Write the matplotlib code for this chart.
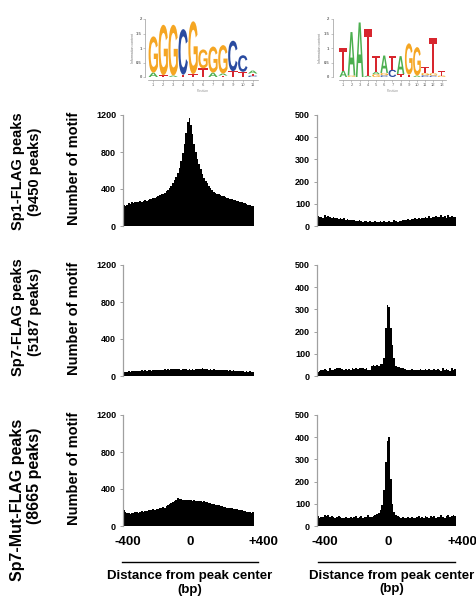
import numpy as np
import matplotlib
matplotlib.use('Agg')
import matplotlib.pyplot as plt
import matplotlib.transforms as mtransforms
from matplotlib.textpath import TextPath
from matplotlib.patches import PathPatch
from matplotlib.font_manager import FontProperties
from matplotlib.lines import Line2D

plt.rcParams['font.family'] = ['Liberation Sans', 'DejaVu Sans']
plt.rcParams['font.weight'] = 'bold'

W, H = 476, 598

# histogram bins (10 bp) from -400 to +400
bin_centers = np.arange(-395, 400, 10)

# Sp1-FLAG peaks, GC-box motif
sp1_gc = [228, 218, 232, 245, 240, 255, 248, 262, 255, 258,
          268, 262, 272, 280, 274, 286, 292, 288, 300, 305,
          312, 322, 334, 345, 350, 362, 378, 392, 410, 432,
          465, 495, 532, 572, 630, 702, 790, 890, 1010, 1125,
          1165, 1090, 990, 890, 800, 728, 668, 612, 560, 520,
          488, 462, 432, 408, 388, 372, 362, 350, 342, 335,
          326, 320, 312, 306, 300, 296, 290, 284, 278, 272,
          268, 262, 256, 250, 244, 238, 232, 226, 218, 212]
# Sp1-FLAG peaks, AT-rich motif
sp1_at = [45, 40, 42, 38, 50, 41, 44, 42, 37, 40,
          35, 38, 33, 36, 30, 34, 28, 31, 26, 29,
          25, 27, 24, 22, 26, 22, 20, 23, 21, 19,
          24, 20, 18, 22, 20, 18, 21, 19, 24, 20,
          18, 22, 19, 20, 25, 22, 20, 24, 22, 26,
          28, 25, 30, 28, 32, 30, 34, 32, 36, 33,
          38, 35, 40, 37, 44, 38, 42, 40, 45, 39,
          42, 48, 40, 44, 38, 50, 42, 45, 40, 42]
# Sp7-FLAG peaks, GC-box motif
sp7_gc = [42, 48, 45, 52, 47, 55, 50, 53, 58, 52,
          56, 60, 55, 62, 58, 60, 64, 59, 66, 62,
          65, 68, 63, 70, 66, 72, 68, 74, 70, 75,
          72, 76, 71, 78, 74, 70, 76, 72, 75, 70,
          73, 68, 74, 70, 72, 76, 80, 74, 85, 78,
          72, 76, 70, 74, 68, 72, 66, 70, 64, 68,
          62, 66, 60, 64, 58, 62, 56, 60, 55, 58,
          52, 56, 50, 54, 48, 52, 46, 50, 45, 48]
# Sp7-FLAG peaks, AT-rich motif
sp7_at = [20, 24, 28, 25, 30, 26, 22, 38, 26, 25,
          30, 36, 34, 37, 32, 29, 30, 27, 33, 28,
          35, 30, 36, 32, 38, 34, 36, 30, 37, 28,
          26, 45, 48, 44, 50, 46, 52, 55, 80, 215,
          322, 312, 215, 140, 80, 45, 42, 40, 38, 35,
          30, 27, 28, 25, 30, 27, 26, 28, 25, 30,
          27, 25, 32, 28, 30, 25, 26, 33, 28, 30,
          26, 24, 35, 28, 30, 26, 24, 36, 28, 30]
# Sp7-Mut-FLAG peaks, GC-box motif
mut_gc = [168, 150, 138, 142, 135, 145, 140, 148, 152, 145,
          155, 160, 152, 165, 162, 170, 175, 168, 180, 178,
          185, 182, 195, 198, 205, 200, 212, 222, 235, 245,
          262, 275, 282, 300, 288, 292, 280, 285, 278, 282,
          276, 280, 272, 278, 270, 275, 268, 272, 262, 265,
          255, 258, 248, 245, 238, 240, 232, 225, 228, 218,
          212, 205, 208, 198, 195, 190, 192, 185, 180, 182,
          175, 170, 168, 160, 162, 155, 150, 152, 145, 148]
# Sp7-Mut-FLAG peaks, AT-rich motif
mut_at = [45, 38, 42, 40, 50, 44, 48, 42, 45, 40,
          38, 42, 45, 40, 36, 38, 42, 35, 38, 40,
          36, 42, 45, 38, 40, 44, 38, 42, 40, 48,
          40, 42, 45, 50, 55, 60, 70, 95, 160, 290,
          385, 400, 210, 100, 62, 50, 45, 40, 38, 42,
          38, 35, 40, 36, 42, 38, 34, 40, 44, 38,
          42, 36, 45, 40, 38, 44, 40, 46, 38, 42,
          40, 48, 42, 38, 45, 50, 40, 44, 48, 45]

row_names = ['Sp1-FLAG peaks', 'Sp7-FLAG peaks', 'Sp7-Mut-FLAG peaks']
row_counts = ['(9450 peaks)', '(5187 peaks)', '(8665 peaks)']
left_data = [sp1_gc, sp7_gc, mut_gc]
right_data = [sp1_at, sp7_at, mut_at]
left_yticks = [0, 400, 800, 1200]
right_yticks = [0, 100, 200, 300, 400, 500]
xtick_labels = ['-400', '0', '+400']

# sequence logos, letters stacked bottom to top
gc_logo_letters = ['AG', 'TG', 'AG', 'TC', 'TG', 'TG', 'AG', 'TAG', 'TC', 'TC', 'CTA']
gc_logo_heights = [[0.15, 1.25], [0.06, 1.74], [0.05, 1.75], [0.08, 1.57],
                   [0.1, 1.82], [0.3, 0.65], [0.15, 0.9], [0.05, 0.07, 0.98],
                   [0.2, 1.05], [0.18, 0.57], [0.05, 0.07, 0.1]]
at_logo_letters = ['AT', 'GA', 'A', 'AT', 'GAT', 'CGA', 'CT', 'TA', 'TG', 'AG',
                   'CGT', 'CGT', 'GT']
at_logo_heights = [[0.22, 0.78], [0.05, 1.5], [1.88], [0.05, 1.6],
                   [0.1, 0.08, 0.55], [0.06, 0.08, 0.6], [0.25, 0.48], [0.1, 0.62],
                   [0.08, 1.08], [0.05, 0.98], [0.06, 0.08, 0.22],
                   [0.05, 0.08, 1.22], [0.05, 0.15]]

letter_colors = {'A': '#4caf50', 'C': '#2a4ba0', 'G': '#f5a623', 'T': '#d7262e'}
logo_font = FontProperties(family='Liberation Sans', weight='bold')


def fx(x):
    return x / W


def fy(y):
    return 1 - y / H


def add_ax(x0, y0, x1, y1):
    # pixel box (top-left origin) -> figure axes
    return fig.add_axes([fx(x0), fy(y1), (x1 - x0) / W, (y1 - y0) / H])


def draw_logo(ax, stacks, heights):
    for pos, (letters, hs) in enumerate(zip(stacks, heights), start=1):
        y = 0
        for ch, h in zip(letters, hs):
            tp = TextPath((0, 0), ch, size=1, prop=logo_font)
            bb = tp.get_extents()
            tr = (mtransforms.Affine2D()
                  .translate(-bb.x0, -bb.y0)
                  .scale(0.94 / bb.width, h / bb.height)
                  .translate(pos - 0.47, y))
            ax.add_patch(PathPatch(tr.transform_path(tp),
                                   fc=letter_colors[ch], ec='none'))
            y += h
    n = len(stacks)
    ax.set_xlim(0.5, n + 0.5)
    ax.set_ylim(0, 2)
    for s in ['top', 'right']:
        ax.spines[s].set_visible(False)
    for s in ['left', 'bottom']:
        ax.spines[s].set_color('#9a9a9a')
        ax.spines[s].set_linewidth(0.5)
    ax.spines['bottom'].set_position(('outward', 2))
    ax.set_xticks(range(1, n + 1))
    ax.set_xticklabels([str(i) for i in range(1, n + 1)])
    ax.set_yticks([0, 0.5, 1, 1.5, 2])
    ax.set_yticklabels(['0', '0.5', '1', '1.5', '2'])
    ax.tick_params(length=1.5, width=0.4, color='#9a9a9a', labelsize=3,
                   labelcolor='#666666', pad=1)
    for lab in ax.get_xticklabels() + ax.get_yticklabels():
        lab.set_fontweight('normal')
    ax.set_xlabel('Position', fontsize=2.5, color='#999999',
                  fontweight='normal', labelpad=1)
    ax.set_ylabel('Information content', fontsize=2.5, color='#777777',
                  fontweight='normal', labelpad=1)
    ax.patch.set_alpha(0)


fig = plt.figure(figsize=(W / 100, H / 100), dpi=100)

# logos
ax_l1 = add_ax(148.3, 19, 257.7, 77)
draw_logo(ax_l1, gc_logo_letters, gc_logo_heights)
ax_l1.spines['left'].set_position(('outward', 2.2))
ax_l2 = add_ax(339.2, 19, 445.6, 77)
draw_logo(ax_l2, at_logo_letters, at_logo_heights)
ax_l2.spines['left'].set_position(('outward', 4.7))

row_tops = [115, 265, 415]
row_h = 111
for r in range(3):
    top = row_tops[r]
    bot = top + row_h
    for c, (x0, x1, data, yt) in enumerate([(123, 254, left_data[r], left_yticks),
                                            (317, 456, right_data[r], right_yticks)]):
        ax = add_ax(x0, top, x1, bot)
        ax.bar(bin_centers, data, width=10, color='black', linewidth=0)
        ax.set_xlim(-400, 400)
        ax.set_ylim(0, yt[-1])
        ax.set_yticks(yt)
        ax.set_xticks([])
        for s in ['top', 'right', 'bottom']:
            ax.spines[s].set_visible(False)
        ax.spines['left'].set_color('#a0a0a0')
        ax.spines['left'].set_linewidth(0.9)
        ax.tick_params(axis='y', length=2.5, width=0.7, color='#a0a0a0',
                       labelsize=6.5, pad=2.5)

    ymid = top + row_h / 2
    fig.text(fx(74), fy(ymid - 2), 'Number of motif', rotation=90,
             ha='center', va='center', fontsize=10.5)

# row labels (the third one is drawn larger in the original)
name_y = [171, 317, 500]
count_y = [172, 312, 476]
label_size = [10.5, 10.5, 11.5]
for r in range(3):
    fig.text(fx(18), fy(name_y[r]), row_names[r], rotation=90,
             ha='center', va='center', fontsize=label_size[r])
    fig.text(fx(35), fy(count_y[r]), row_counts[r], rotation=90,
             ha='center', va='center', fontsize=label_size[r])

# x labels under the bottom row
for xs in [(128, 190, 263), (325, 388, 462)]:
    for x, lab in zip(xs, xtick_labels):
        fig.text(fx(x), fy(542), lab, ha='center', va='center', fontsize=9.5)

for (x0, x1, xc, ybp) in [(122, 258, 190, 590), (318, 455, 392, 589)]:
    fig.add_artist(Line2D([fx(x0), fx(x1)], [fy(562), fy(562)],
                          transform=fig.transFigure, color='black', lw=1))
    fig.text(fx(xc), fy(576), 'Distance from peak center', ha='center',
             va='center', fontsize=9.5)
    fig.text(fx(xc), fy(ybp), '(bp)', ha='center', va='center', fontsize=9.5)

fig.savefig('out.png', dpi=100)
